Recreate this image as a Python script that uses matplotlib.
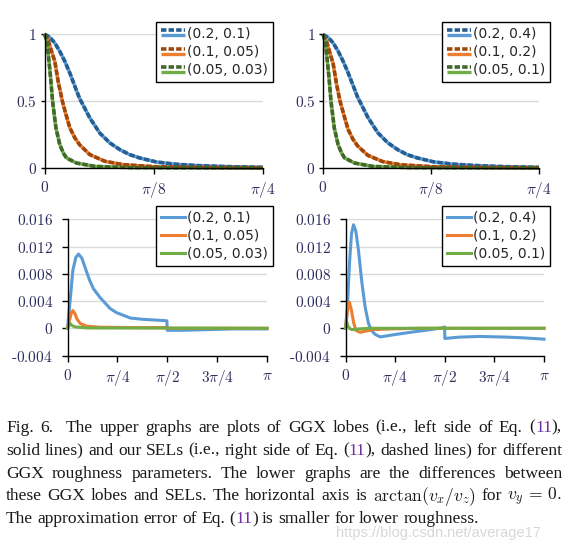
import numpy as np
import matplotlib
matplotlib.use("Agg")
import matplotlib.pyplot as plt
from matplotlib.lines import Line2D
from matplotlib.legend_handler import HandlerBase

plt.rcParams["mathtext.fontset"] = "cm"

# ---- data (x in radians) ----
# upper left: GGX lobes, roughness (0.2, 0.1), (0.1, 0.05), (0.05, 0.03)
tl_blue_x = [0, 0.019, 0.037, 0.055, 0.073, 0.091, 0.109, 0.126, 0.163, 0.199, 0.235,
             0.271, 0.306, 0.342, 0.402, 0.471, 0.550, 0.628, 0.707, 0.785]
tl_blue_y = [1.0, 0.975, 0.933, 0.87, 0.796, 0.709, 0.61, 0.52, 0.373, 0.26, 0.187,
             0.137, 0.10, 0.075, 0.045, 0.028, 0.018, 0.012, 0.008, 0.005]
tl_orange_x = [0, 0.012, 0.024, 0.037, 0.049, 0.064, 0.077, 0.091, 0.109, 0.126, 0.163,
               0.217, 0.283, 0.393, 0.55, 0.785]
tl_orange_y = [1.0, 0.96, 0.88, 0.796, 0.647, 0.50, 0.40, 0.30, 0.225, 0.174, 0.10,
               0.05, 0.025, 0.010, 0.005, 0.002]
tl_green_x = [0, 0.008, 0.016, 0.023, 0.029, 0.035, 0.041, 0.055, 0.068, 0.079, 0.115,
              0.181, 0.31, 0.785]
tl_green_y = [1.0, 0.95, 0.80, 0.65, 0.50, 0.40, 0.30, 0.174, 0.11, 0.075, 0.037,
              0.012, 0.003, 0.0]

# upper right: roughness (0.2, 0.4), (0.1, 0.2), (0.05, 0.1)
tr_blue_x = [0, 0.019, 0.037, 0.055, 0.073, 0.091, 0.109, 0.126, 0.163, 0.199, 0.235,
             0.271, 0.306, 0.342, 0.402, 0.471, 0.550, 0.628, 0.707, 0.785]
tr_blue_y = [1.0, 0.977, 0.937, 0.875, 0.80, 0.715, 0.62, 0.53, 0.38, 0.265, 0.19,
             0.138, 0.10, 0.076, 0.046, 0.029, 0.019, 0.012, 0.008, 0.005]
tr_orange_x = [0, 0.012, 0.024, 0.037, 0.049, 0.062, 0.077, 0.091, 0.109, 0.126, 0.163,
               0.217, 0.283, 0.393, 0.55, 0.785]
tr_orange_y = [1.0, 0.955, 0.87, 0.78, 0.63, 0.50, 0.39, 0.29, 0.215, 0.165, 0.095,
               0.048, 0.024, 0.010, 0.005, 0.002]
tr_green_x = [0, 0.008, 0.016, 0.023, 0.029, 0.035, 0.041, 0.055, 0.068, 0.079, 0.115,
              0.181, 0.31, 0.785]
tr_green_y = [1.0, 0.95, 0.80, 0.65, 0.50, 0.40, 0.30, 0.174, 0.11, 0.075, 0.037,
              0.012, 0.003, 0.0]

# lower left: differences GGX - SEL
bl_blue_x = [0, 0.042, 0.084, 0.131, 0.173, 0.226, 0.304, 0.35, 0.409, 0.514, 0.671, 0.77,
             0.99, 1.2, 1.4, 1.565, 1.571, 1.8, 2.2, 2.6, 3.1416]
bl_blue_y = [0, 0.0041, 0.0085, 0.0104, 0.0109, 0.0103, 0.0082, 0.0070, 0.0058, 0.0045,
             0.0029, 0.0023, 0.0015, 0.0013, 0.0012, 0.0011, -0.0003, -0.0003, -0.0002,
             -0.0001, -0.0001]
bl_orange_x = [0, 0.031, 0.06, 0.084, 0.12, 0.147, 0.2, 0.304, 0.514, 1.0, 1.565, 1.575, 3.1416]
bl_orange_y = [0, 0.0012, 0.0022, 0.0026, 0.0021, 0.0014, 0.0007, 0.0003, 0.00015, 0.0001,
               0.0001, 0.0, 0.0]
bl_green_x = [0, 0.02, 0.042, 0.07, 0.12, 0.3, 3.1416]
bl_green_y = [0, 0.0005, 0.0007, 0.0004, 0.0002, 0.00005, 0.0]

# lower right
br_blue_x = [0, 0.032, 0.063, 0.095, 0.127, 0.163, 0.206, 0.258, 0.311, 0.364, 0.416, 0.47,
             0.549, 0.8, 1.1, 1.35, 1.55, 1.569, 1.572, 1.8, 2.13, 2.55, 2.8, 3.1416]
br_blue_y = [0, 0.0036, 0.0095, 0.0139, 0.0152, 0.0143, 0.0114, 0.0068, 0.0031, 0.0007,
             -0.0004, -0.0009, -0.00127, -0.0009, -0.0005, -0.0002, 0.0001, 0.0002, -0.0015,
             -0.0013, -0.0012, -0.0013, -0.0014, -0.0016]
br_orange_x = [0, 0.021, 0.042, 0.063, 0.095, 0.127, 0.163, 0.23, 0.33, 0.45, 0.7, 1.2, 3.1416]
br_orange_y = [0, 0.0017, 0.0034, 0.0038, 0.0026, 0.0009, -0.0003, -0.0006, -0.0004,
               -0.0002, -0.0001, 0.0, 0.0]
br_green_x = [0, 0.01, 0.021, 0.035, 0.06, 0.1, 0.2, 0.4, 3.1416]
br_green_y = [0, 0.0006, 0.0009, 0.0004, 0.0, -0.0002, -0.0001, 0.0, 0.0]

tl_labels = ["(0.2, 0.1)", "(0.1, 0.05)", "(0.05, 0.03)"]
tr_labels = ["(0.2, 0.4)", "(0.1, 0.2)", "(0.05, 0.1)"]

top_xticks = [0, np.pi / 8, np.pi / 4]
top_xlabels = [r"$0$", r"$\pi/8$", r"$\pi/4$"]
top_yticks = [0, 0.5, 1]
top_ylabels = [r"$0$", r"$0.5$", r"$1$"]
bot_xticks = [0, np.pi / 4, np.pi / 2, 3 * np.pi / 4, np.pi]
bot_xlabels = [r"$0$", r"$\pi/4$", r"$\pi/2$", r"$3\pi/4$", r"$\pi$"]
bot_yticks = [-0.004, 0, 0.004, 0.008, 0.012, 0.016]
bot_ylabels = [r"$\text{-}0.004$", r"$0$", r"$0.004$", r"$0.008$", r"$0.012$", r"$0.016$"]

light = ["#5B9BD5", "#ED7D31", "#70AD47"]
dark = ["#255E91", "#9E480E", "#43682B"]
tick_color = "#2e2e5e"

W, H = 567, 541
fig = plt.figure(figsize=(W / 100, H / 100), dpi=100)


def px_axes(x0, x1, ytop, ybot):
    return fig.add_axes([x0 / W, 1 - ybot / H, (x1 - x0) / W, (ybot - ytop) / H])


class PairHandler(HandlerBase):
    # solid lobe line below, dashed SEL line above
    def create_artists(self, legend, orig_handle, xdescent, ydescent, width, height, fontsize, trans):
        solid, dashed = orig_handle
        xs = [-xdescent, width - xdescent]
        yc = (height - ydescent) / 2
        a = Line2D(xs, [yc - 1.8] * 2, color=solid.get_color(), lw=solid.get_linewidth(),
                   solid_capstyle="butt")
        b = Line2D(xs, [yc + 1.8] * 2, color=dashed.get_color(), lw=dashed.get_linewidth(),
                   linestyle=(0, (1.5, 0.6)), dash_capstyle="butt")
        a.set_transform(trans)
        b.set_transform(trans)
        return [a, b]


def style(ax, xt, xl, yt, yl, ylim, xmax, ylen, ypad):
    ax.set_xlim(0, xmax)
    ax.set_ylim(*ylim)
    for s in ["top", "right"]:
        ax.spines[s].set_visible(False)
    for s in ["left", "bottom"]:
        ax.spines[s].set_color("black")
        ax.spines[s].set_linewidth(1.0)
    ax.set_xticks(xt, xl)
    ax.set_yticks(yt, yl)
    ax.tick_params(axis="x", direction="out", length=4, width=1.0, pad=5,
                   labelsize=11, labelcolor=tick_color)
    ax.tick_params(axis="y", direction="out", length=ylen, width=1.0, pad=ypad,
                   labelsize=11, labelcolor=tick_color)
    ax.yaxis.grid(True, color="#d9d9d9", lw=1.0)
    ax.set_axisbelow(True)


def legend(ax, handles, labels, x, y, pair):
    kw = dict(handler_map={tuple: PairHandler()}) if pair else {}
    leg = ax.legend(handles, labels, loc="upper left", bbox_to_anchor=(x / W, 1 - y / H),
                    bbox_transform=fig.transFigure, borderaxespad=0, fancybox=False,
                    frameon=True, framealpha=1, edgecolor="black",
                    prop={"family": "DejaVu Sans", "size": 10}, labelcolor="#262626",
                    handlelength=1.75, handletextpad=0.15, labelspacing=0.3,
                    borderpad=0.35, **kw)
    leg.get_frame().set_linewidth(1.0)


# upper panels
for (x0, x1, ytop, ybot), series, labels, lx in [
    ((44.5, 263, 34, 168),
     [(tl_blue_x, tl_blue_y), (tl_orange_x, tl_orange_y), (tl_green_x, tl_green_y)],
     tl_labels, 156),
    ((323, 539, 34.5, 168),
     [(tr_blue_x, tr_blue_y), (tr_orange_x, tr_orange_y), (tr_green_x, tr_green_y)],
     tr_labels, 442),
]:
    ax = px_axes(x0, x1, ytop, ybot)
    solids, dashes = [], []
    for (xs, ys), c in zip(series, light):
        ln, = ax.plot(xs, ys, color=c, lw=2.4, clip_on=False, solid_capstyle="butt")
        solids.append(ln)
    for (xs, ys), c in zip(series, dark):
        ln, = ax.plot(xs, ys, color=c, lw=2.6, linestyle=(0, (1.5, 0.6)), clip_on=False)
        dashes.append(ln)
    style(ax, top_xticks, top_xlabels, top_yticks, top_ylabels, (0, 1), np.pi / 4, 3, 2.5)
    legend(ax, list(zip(solids, dashes)), labels, lx, 22, True)

# lower panels
for (x0, x1, ytop, ybot), series, labels, lx in [
    ((67.5, 267, 219.3, 355.5),
     [(bl_blue_x, bl_blue_y), (bl_orange_x, bl_orange_y), (bl_green_x, bl_green_y)],
     tl_labels, 156),
    ((345.5, 544, 219.3, 355.5),
     [(br_blue_x, br_blue_y), (br_orange_x, br_orange_y), (br_green_x, br_green_y)],
     tr_labels, 442),
]:
    ax = px_axes(x0, x1, ytop, ybot)
    lines = []
    for (xs, ys), c in zip(series, light):
        ln, = ax.plot(xs, ys, color=c, lw=2.2, clip_on=False)
        lines.append(ln)
    style(ax, bot_xticks, bot_xlabels, bot_yticks, bot_ylabels, (-0.004, 0.016), np.pi, 4.5, 6)
    legend(ax, lines, labels, lx, 206, False)

# ---- caption, justified line by line ----
K = "#1a1a1a"
P = "#7030a0"
cap_lines = [
    ["Fig.", "6.", "", "The", "upper", "graphs", "are", "plots", "of", "GGX", "lobes", "(i.e.,",
     "left", "side", "of", "Eq.", [("(", K), ("11", P), ("),", K)]],
    ["solid", "lines)", "and", "our", "SELs", "(i.e.,", "right", "side", "of", "Eq.",
     [("(", K), ("11", P), ("),", K)], "dashed", "lines)", "for", "different"],
    "GGX roughness parameters. The lower graphs are the differences between".split(),
    ["these", "GGX", "lobes", "and", "SELs.", "The", "horizontal", "axis", "is",
     r"$\mathrm{arctan}(v_x/v_z)$", "for", r"$v_y\,=\,0.$"],
    ["The", "approximation", "error", "of", "Eq.", [("(", K), ("11", P), (")", K)], "is",
     "smaller", "for", "lower", "roughness."],
]
baselines = [431.7, 454.6, 477.6, 500.5, 523.4]
cap_size = 12.6
cap_font = dict(family="Liberation Serif", size=cap_size)
left_px, right_px = 6, 562

renderer = fig.canvas.get_renderer()


def make_word(word):
    segs = [(word, K)] if isinstance(word, str) else word
    arts, width = [], 0.0
    for s, c in segs:
        if not s:
            continue
        t = fig.text(0, 0, s, color=c, va="baseline", ha="left", **cap_font)
        w = t.get_window_extent(renderer=renderer).width
        arts.append((t, width))
        width += w
    return arts, width


for i, (words, yb) in enumerate(zip(cap_lines, baselines)):
    built = [make_word(w) for w in words]
    total = sum(w for _, w in built)
    if i < len(cap_lines) - 1:
        gap = (right_px - left_px - total) / (len(built) - 1)
    else:
        gap = 0.25 * cap_size * 100 / 72
    x = left_px
    for arts, w in built:
        for t, off in arts:
            t.set_position(((x + off) / W, 1 - yb / H))
        x += w + gap

fig.text(336 / W, 1 - 537 / H, "https://blog.csdn.net/average17", color="#bdbdbd",
         alpha=0.6, family="Liberation Sans", size=10.5, va="baseline")

fig.savefig("out.png", dpi=100)
